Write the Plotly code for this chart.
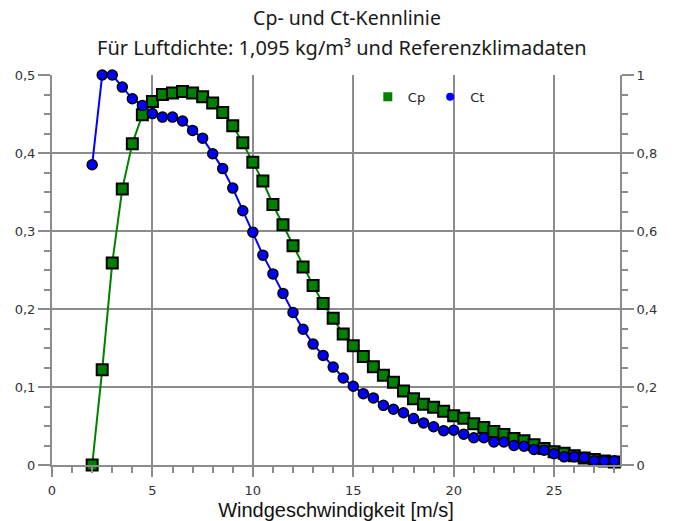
import plotly.graph_objects as go

# Windgeschwindigkeit [m/s]
wind = [2, 2.5, 3, 3.5, 4, 4.5, 5, 5.5, 6, 6.5, 7, 7.5, 8, 8.5, 9, 9.5, 10,
        10.5, 11, 11.5, 12, 12.5, 13, 13.5, 14, 14.5, 15, 15.5, 16, 16.5, 17,
        17.5, 18, 18.5, 19, 19.5, 20, 20.5, 21, 21.5, 22, 22.5, 23, 23.5, 24,
        24.5, 25, 25.5, 26, 26.5, 27, 27.5, 28]

# Leistungsbeiwert (linke Achse)
cp = [0.0, 0.122, 0.259, 0.354, 0.412, 0.449, 0.466, 0.475, 0.477, 0.479,
      0.477, 0.472, 0.464, 0.452, 0.435, 0.413, 0.388, 0.364, 0.334, 0.308,
      0.281, 0.254, 0.230, 0.207, 0.188, 0.168, 0.153, 0.139, 0.126, 0.115,
      0.106, 0.095, 0.085, 0.078, 0.074, 0.069, 0.063, 0.060, 0.053, 0.048,
      0.043, 0.039, 0.034, 0.031, 0.026, 0.021, 0.017, 0.015, 0.012, 0.009,
      0.007, 0.005, 0.004]

# Schubbeiwert (rechte Achse)
ct = [0.77, 1.0, 1.0, 0.969, 0.939, 0.922, 0.901, 0.892, 0.892, 0.882,
      0.858, 0.838, 0.798, 0.760, 0.710, 0.652, 0.597, 0.538, 0.490, 0.440,
      0.391, 0.348, 0.310, 0.281, 0.251, 0.223, 0.202, 0.183, 0.172, 0.153,
      0.143, 0.134, 0.119, 0.108, 0.098, 0.088, 0.089, 0.079, 0.070, 0.070,
      0.059, 0.059, 0.050, 0.048, 0.040, 0.038, 0.029, 0.021, 0.021, 0.019,
      0.011, 0.011, 0.011]

x_ticks = [0, 5, 10, 15, 20, 25]
y1_ticks = [0, 0.1, 0.2, 0.3, 0.4, 0.5]
y2_ticks = [0, 0.2, 0.4, 0.6, 0.8, 1]


def de_label(v):
    # Dezimalkomma, ohne überflüssige Nachkommastellen
    return f"{v:g}".replace(".", ",")


GREEN = "#008000"
BLUE = "#0000ff"
GRID = "#8c8c8c"
TICKFONT = dict(family="DejaVu Sans", size=13, color="#333333")

fig = go.Figure()

fig.add_trace(go.Scatter(
    x=wind, y=cp, mode="lines+markers", name="Cp", showlegend=False,
    line=dict(color=GREEN, width=2),
    marker=dict(symbol="square", size=11, color=GREEN,
                line=dict(color="black", width=2)),
    cliponaxis=False,
))
fig.add_trace(go.Scatter(
    x=wind, y=ct, mode="lines+markers", name="Ct", showlegend=False,
    yaxis="y2",
    line=dict(color=BLUE, width=2),
    marker=dict(symbol="circle", size=10, color=BLUE,
                line=dict(color="black", width=1.5)),
    cliponaxis=False,
))

# Legendeneinträge nur mit Symbol
fig.add_trace(go.Scatter(
    x=[None], y=[None], mode="markers", name="Cp",
    marker=dict(symbol="square", size=9, color=GREEN),
))
fig.add_trace(go.Scatter(
    x=[None], y=[None], mode="markers", name="Ct", yaxis="y2",
    marker=dict(symbol="circle", size=8, color=BLUE),
))

fig.update_layout(
    width=674, height=521,
    margin=dict(l=52, r=54, t=75, b=55.5),
    paper_bgcolor="white", plot_bgcolor="white",
    showlegend=True,
    legend=dict(
        orientation="h", x=0.556, y=0.944, xanchor="left", yanchor="middle",
        font=dict(family="DejaVu Sans", size=13, color="#222222"),
        bgcolor="rgba(0,0,0,0)", itemclick=False,
    ),
    title=dict(
        text="Cp- und Ct-Kennlinie",
        x=347 / 674, xanchor="center", y=1 - 18 / 521, yanchor="middle",
        font=dict(family="Noto Sans", size=19.5, color="#1a1a1a"),
    ),
    annotations=[dict(
        text="Für Luftdichte: 1,095 kg/m³ und Referenzklimadaten",
        xref="paper", yref="paper", x=(342 - 52) / 568, xanchor="center",
        y=(465.5 - 47) / 390.5, yanchor="middle", showarrow=False,
        font=dict(family="Noto Sans", size=20, color="#1a1a1a"),
    )],
    xaxis=dict(
        range=[0, 28.28], tickvals=x_ticks,
        ticktext=[de_label(v) for v in x_ticks],
        automargin=False,
        showgrid=True, gridcolor=GRID, gridwidth=2,
        showline=True, linecolor=GRID, linewidth=2,
        ticks="outside", ticklen=10, tickcolor=GRID, tickwidth=2,
        ticklabelstandoff=2,
        minor=dict(dtick=1, ticks="outside", ticklen=6, tickcolor=GRID,
                   tickwidth=1.5, showgrid=False),
        tickfont=TICKFONT, zeroline=False,
        title=dict(text="Windgeschwindigkeit [m/s]", standoff=6,
                   font=dict(family="Liberation Sans", size=20, color="#111111")),
    ),
    yaxis=dict(
        range=[0, 0.5], tickvals=y1_ticks,
        ticktext=[de_label(v) for v in y1_ticks],
        automargin=False,
        showgrid=True, gridcolor=GRID, gridwidth=2,
        showline=True, linecolor=GRID, linewidth=2,
        ticks="outside", ticklen=12, tickcolor=GRID, tickwidth=2,
        minor=dict(dtick=0.025, ticks="outside", ticklen=6, tickcolor=GRID,
                   tickwidth=1.5, showgrid=False),
        tickfont=TICKFONT, zeroline=False,
    ),
    yaxis2=dict(
        range=[0, 1], tickvals=y2_ticks, overlaying="y", side="right",
        ticktext=[de_label(v) for v in y2_ticks],
        automargin=False,
        showgrid=False,
        showline=True, linecolor=GRID, linewidth=2,
        ticks="outside", ticklen=12, tickcolor=GRID, tickwidth=2,
        minor=dict(dtick=0.05, ticks="outside", ticklen=6, tickcolor=GRID,
                   tickwidth=1.5, showgrid=False),
        tickfont=TICKFONT, zeroline=False,
    ),
)

fig.write_html("out.html")
